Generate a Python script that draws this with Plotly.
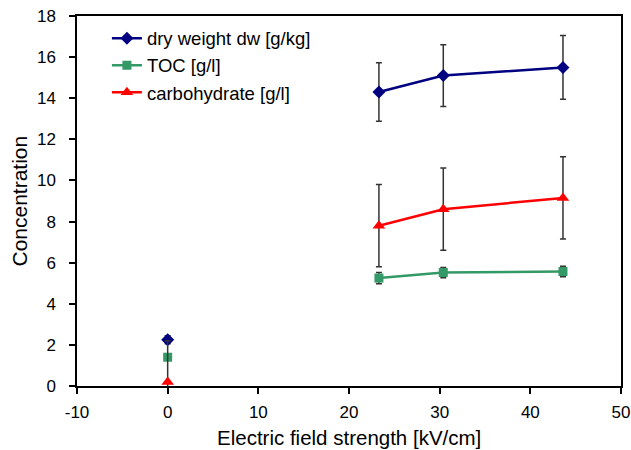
import plotly.graph_objects as go

field_strength = [0, None, 23.3, 30.4, 43.6]

dry_weight = [2.25, None, 14.3, 15.1, 15.5]
dry_weight_err = [0.2, None, 1.42, 1.5, 1.55]

toc = [1.4, None, 5.25, 5.52, 5.57]
toc_err = [0.15, None, 0.27, 0.25, 0.25]

carbohydrate = [0.2, None, 7.8, 8.6, 9.15]
carbohydrate_err = [2.0, None, 2.0, 2.0, 2.0]

x_ticks = [-10, 0, 10, 20, 30, 40, 50]
x_tick_labels = ["-10", "0", "10", "20", "30", "40", "50"]
y_ticks = [0, 2, 4, 6, 8, 10, 12, 14, 16, 18]

x_title = "Electric field strength [kV/cm]"
y_title = "Concentration"

series = [
    ("dry weight dw [g/kg]", dry_weight, dry_weight_err, "#000080", "diamond", 10),
    ("TOC [g/l]", toc, toc_err, "#339966", "square", 9),
    ("carbohydrate [g/l]", carbohydrate, carbohydrate_err, "#FF0000", "triangle-up", 11),
]

fig = go.Figure()
for name, ys, errs, color, symbol, size in series:
    fig.add_trace(go.Scatter(
        x=field_strength, y=ys, name=name, mode="lines+markers",
        line=dict(color=color, width=2.5),
        marker=dict(symbol=symbol, size=size, color=color),
        error_y=dict(type="data", array=errs, visible=True, color="#333333",
                     thickness=1.5, width=3),
        connectgaps=False, cliponaxis=False,
    ))

FONT = "Liberation Sans, Arial, sans-serif"
axis_common = dict(
    showgrid=False, zeroline=False, showline=True, linecolor="black", linewidth=1.5,
    mirror=True, ticks="outside", ticklen=6, tickwidth=1.5, tickcolor="black",
    tickfont=dict(family=FONT, size=17, color="black"), automargin=False,
)

fig.update_layout(
    width=631, height=450,
    margin=dict(l=77, r=10, t=16, b=64),
    plot_bgcolor="white", paper_bgcolor="white",
    font=dict(family=FONT, size=17, color="black"),
    xaxis=dict(range=[-10, 50], tickvals=x_ticks, ticktext=x_tick_labels,
               ticklabelstandoff=4, **axis_common),
    yaxis=dict(range=[0, 18], tickvals=y_ticks, ticklabelstandoff=10, **axis_common),
    legend=dict(x=0.055, y=0.99, xanchor="left", yanchor="top",
                bgcolor="rgba(0,0,0,0)", font=dict(size=18.5), itemwidth=30),
    showlegend=True,
    annotations=[
        dict(text=x_title, xref="paper", yref="paper", x=0.5, y=-0.138,
             xanchor="center", yanchor="middle", showarrow=False, font=dict(size=20.5)),
        dict(text=y_title, xref="paper", yref="paper", x=-0.1075, y=0.5,
             xanchor="center", yanchor="middle", textangle=-90, showarrow=False,
             font=dict(size=21)),
    ],
)

fig.write_html("out.html", post_script="document.body.style.margin='0';",
               config={"displayModeBar": False})
